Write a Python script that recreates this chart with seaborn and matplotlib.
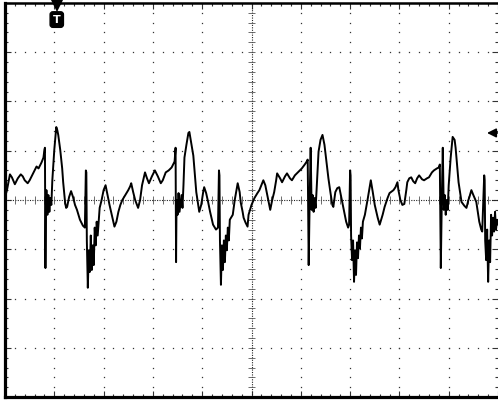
import numpy as np
import pandas as pd
import seaborn as sns
import matplotlib.pyplot as plt
from matplotlib.ticker import MultipleLocator

sns.set_style('white')

# screen: 10 div x 8 div, 50 samples/div, 50 counts/div
t = [0, 2, 5, 7, 10, 13, 16, 18, 20, 23, 25, 27, 30, 32, 34, 37, 39,
     40, 40.5, 41, 41.5, 42, 43, 44, 45, 46, 47,
     48, 50, 52, 53, 54, 56, 58, 59, 61, 62, 63, 65, 67, 69, 71, 73, 76, 79, 81,
     82, 82.5, 83, 84, 85, 86, 87, 88, 89, 90, 91, 92, 93, 94,
     96, 98, 100, 102, 104, 106, 109, 111, 113, 115, 117, 119, 122, 125, 127, 128,
     130, 132, 135, 137, 139, 142, 144, 146, 149, 152, 155, 158, 160, 163, 166, 169, 172,
     173, 173.5, 174, 175, 176, 177, 179, 180, 181,
     182, 184, 186, 187, 188, 190, 191, 193, 194, 196, 197, 199, 201, 202, 204, 206,
     208, 211, 214, 216,
     217, 217.5, 218, 219, 220, 221, 222, 223, 224, 225, 226, 227, 228,
     231, 233, 236, 238, 239, 241, 242, 244, 246, 247, 250, 253, 256, 258, 260, 262,
     264, 265, 267, 269, 271, 273, 275, 276, 279, 281, 284, 286, 289, 291, 294, 296,
     299, 301, 304, 306, 307,
     308, 309, 310, 311, 312, 313, 314, 315, 316,
     318, 320, 322, 324, 326, 328, 330, 332, 333, 335, 337, 339, 341, 344, 346, 348, 349,
     350, 350.5, 351, 352, 353, 354, 355, 356, 357, 358, 359, 360, 361, 362, 363,
     365, 368, 371, 373, 375, 378, 380, 383, 385, 388, 390, 394, 396, 398, 399, 401,
     403, 405, 407, 408, 410, 412, 414, 416, 418, 420, 423, 425, 428, 430, 433, 435,
     438, 440, 441,
     442, 443, 444, 445, 446, 447, 448, 449, 450,
     452, 454, 456, 457, 459, 460, 462, 463, 466, 468, 470, 471, 473, 475, 478, 480,
     481, 483, 484,
     486, 486.5, 487, 488, 489, 490, 491, 492, 493, 494, 495, 496, 497, 498, 499, 500]
v = [3, 10, 26, 23, 16, 22, 26, 24, 20, 17, 20, 24, 30, 34, 32, 38, 43,
     51, 53, -69, -5, 10, -15, 5, -12, 2, -5,
     20, 51, 74, 71, 66, 51, 32, 18, -3, -8, -7, 3, 9, 3, -5, -10, -20, -26, -28,
     30, 28, -41, -89, -51, -73, -36, -71, -46, -66, -28, -46, -22, -36,
     -8, 0, 10, 15, 5, -5, -18, -27, -22, -12, -5, 0, 5, 10, 14, 17,
     8, 0, -8, 0, 15, 28, 22, 17, 24, 30, 24, 17, 20, 28, 30, 33, 39,
     53, -63, 0, -15, 7, -12, 5, -8, 15,
     43, 56, 68, 69, 63, 51, 45, 20, 8, -5, -12, -5, 8, 13, 7, -2,
     -12, -25, -30, -28,
     30, 25, -41, -86, -46, -71, -41, -63, -36, -51, -28, -41, -20,
     -15, 0, 17, 8, -2, -12, -18, -23, -27, -15, -5, 2, 7, 10, 15, 20,
     15, 10, 0, -10, 0, 8, 20, 27, 22, 18, 24, 27, 22, 20, 25, 27,
     30, 32, 36, 39, 41,
     -66, 0, 53, -10, 5, -12, 2, -8, 10,
     49, 61, 66, 56, 39, 22, 8, -5, -7, 8, 12, 13, 3, -12, -22, -28, -25,
     30, 25, -36, -61, -41, -83, -51, -76, -43, -59, -36, -49, -28, -39, -22,
     -15, 2, 20, 8, -5, -18, -25, -15, -7, 2, 7, 10, 13, 18, 10, 0,
     -5, -4, 10, 18, 22, 23, 19, 17, 22, 25, 21, 20, 22, 23, 28, 30,
     32, 33, 36,
     -69, 0, 53, -10, 5, -15, 0, -10, 15,
     43, 64, 61, 53, 30, 18, 5, -2, -6, -8, 0, 3, 10, 5, -2, -15,
     -22, -30, -32,
     25, 20, -41, -61, -30, -83, -41, -63, -15, -36, -18, -32, -12, -30, -20, -25]

df = pd.DataFrame({'t': t, 'v': v})

fig = plt.figure(figsize=(4.98, 4.0), dpi=100)
ax = fig.add_axes([5 / 498, 2.8 / 400, 493 / 498, 394.4 / 400])

# dotted graticule
gx = np.arange(50, 500, 50)
gy = np.arange(-150, 151, 50)
for x in gx:
    if x == 250:
        continue
    yy = np.arange(-200, 201, 10)
    ax.plot(np.full_like(yy, x), yy, ls='none', marker='s', ms=0.9, mew=0, color='#333333')
for y in gy:
    if y == 0:
        continue
    xx = np.arange(0, 501, 10)
    ax.plot(xx, np.full_like(xx, y), ls='none', marker='s', ms=0.9, mew=0, color='#333333')

# centre axes with minor ticks
ax.axhline(0, ls=(0, (1, 1.2)), lw=0.8, color='#222222')
ax.axvline(250, ls=(0, (1, 1.2)), lw=0.8, color='#222222')
ax.vlines(np.arange(0, 501, 10), -4, 4, lw=0.6, color='#555555')
ax.hlines(np.arange(-200, 201, 10), 246, 254, lw=0.6, color='#555555')

sns.lineplot(data=df, x='t', y='v', sort=False, estimator=None,
             color='black', lw=1.4, ax=ax)

ax.set_xlim(0, 500)
ax.set_ylim(-200, 200)
ax.xaxis.set_major_locator(MultipleLocator(50))
ax.xaxis.set_minor_locator(MultipleLocator(10))
ax.yaxis.set_major_locator(MultipleLocator(50))
ax.yaxis.set_minor_locator(MultipleLocator(10))
ax.tick_params(which='both', direction='in', top=True, right=True, bottom=True, left=True,
               labelbottom=False, labelleft=False, color='#333333')
ax.tick_params(which='major', length=4, width=0.8)
ax.tick_params(which='minor', length=2.5, width=0.8)
ax.set_xlabel('')
ax.set_ylabel('')

for side, w in [('left', 2.3), ('top', 1.8), ('bottom', 2.3)]:
    ax.spines[side].set_linewidth(w)
    ax.spines[side].set_color('black')
ax.spines['right'].set_visible(False)

# trigger position marker
ax.text(52.5, 183, 'T', color='white', fontsize=8, fontweight='bold', ha='center', va='center',
        zorder=5, bbox=dict(boxstyle='round,pad=0.25', fc='black', ec='black'))
ax.plot([52.5], [197], marker='v', ms=8, mew=0, color='black', clip_on=False, zorder=6)

# trigger level marker
ax.annotate('', xy=(486, 68), xytext=(502, 68),
            arrowprops=dict(arrowstyle='-|>', color='black', lw=1.3, mutation_scale=13),
            annotation_clip=False)

fig.savefig('out.png', dpi=100)
